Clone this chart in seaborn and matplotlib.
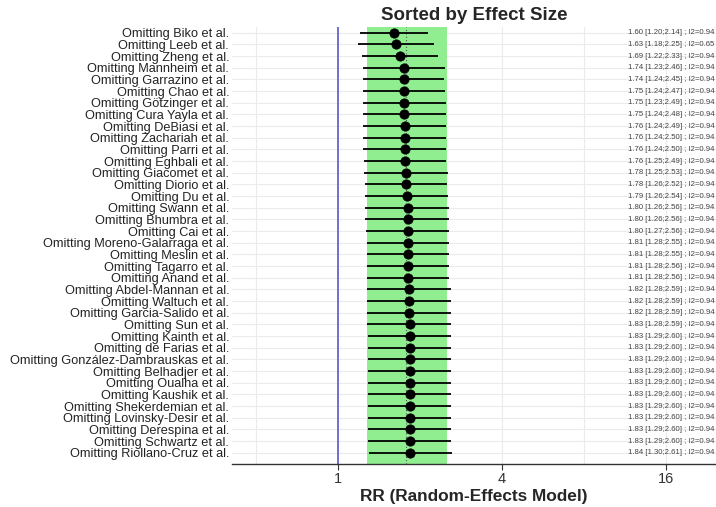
import matplotlib
matplotlib.use("Agg")
import matplotlib.pyplot as plt
import matplotlib.ticker as mticker
import matplotlib.transforms as mtransforms
import pandas as pd
import seaborn as sns

authors = [
    "Biko", "Leeb", "Zheng", "Mannheim", "Garrazino", "Chao", "Götzinger",
    "Cura Yayla", "DeBiasi", "Zachariah", "Parri", "Eghbali", "Giacomet",
    "Diorio", "Du", "Swann", "Bhumbra", "Cai", "Moreno-Galarraga", "Meslin",
    "Tagarro", "Anand", "Abdel-Mannan", "Waltuch", "Garcia-Salido", "Sun",
    "Kainth", "de Farias", "González-Dambrauskas", "Belhadjer", "Oualha",
    "Kaushik", "Shekerdemian", "Lovinsky-Desir", "Derespina", "Schwartz",
    "Riollano-Cruz",
]
rr = [1.60, 1.63, 1.69, 1.74, 1.74, 1.75, 1.75, 1.75, 1.76, 1.76, 1.76, 1.76,
      1.78, 1.78, 1.79, 1.80, 1.80, 1.80, 1.81, 1.81, 1.81, 1.81, 1.82, 1.82,
      1.82, 1.83, 1.83, 1.83, 1.83, 1.83, 1.83, 1.83, 1.83, 1.83, 1.83, 1.83,
      1.84]
lower = [1.20, 1.18, 1.22, 1.23, 1.24, 1.24, 1.23, 1.24, 1.24, 1.24, 1.24, 1.25,
         1.25, 1.26, 1.26, 1.26, 1.26, 1.27, 1.28, 1.28, 1.28, 1.28, 1.28, 1.28,
         1.28, 1.28, 1.29, 1.29, 1.29, 1.29, 1.29, 1.29, 1.29, 1.29, 1.29, 1.29,
         1.30]
upper = [2.14, 2.25, 2.33, 2.46, 2.45, 2.47, 2.49, 2.48, 2.49, 2.50, 2.50, 2.49,
         2.53, 2.52, 2.54, 2.56, 2.56, 2.56, 2.55, 2.55, 2.56, 2.56, 2.59, 2.59,
         2.59, 2.59, 2.60, 2.60, 2.60, 2.60, 2.60, 2.60, 2.60, 2.60, 2.60, 2.60,
         2.61]
i2 = [0.94, 0.65] + [0.94] * 35

pooled = 1.78
pooled_lo = 1.28
pooled_hi = 2.51

df = pd.DataFrame({
    "label": [f"Omitting {a} et al." for a in authors],
    "rr": rr, "lower": lower, "upper": upper, "i2": i2,
})
df["pos"] = range(len(df))

sns.set_theme(style="whitegrid")
plt.rcParams["font.family"] = ["Liberation Sans", "DejaVu Sans"]

fig = plt.figure(figsize=(7.16, 5.07), dpi=100)
ax = fig.add_axes([0.324, 0.085, 0.676, 0.862])

ax.axvspan(pooled_lo, pooled_hi, color="#90ee90", zorder=1, lw=0)
ax.axvline(pooled, color="#555555", ls=(0, (1, 2)), lw=0.8, zorder=2)
ax.axvline(1, color="#6666cc", lw=1.3, zorder=2)

ax.hlines(df["pos"], df["lower"], df["upper"], color="black", lw=1.3, zorder=3)
sns.scatterplot(data=df, x="rr", y="pos", color="black", s=45,
                edgecolor="black", zorder=4, ax=ax, legend=False)

trans = mtransforms.blended_transform_factory(ax.transAxes, ax.transData)
for _, r in df.iterrows():
    ax.text(0.997, r["pos"],
            f"{r['rr']:.2f} [{r['lower']:.2f};{r['upper']:.2f}] ; I2={r['i2']:.2f}",
            transform=trans, ha="right", va="center", fontsize=5.6, color="#444444",
            zorder=5)

ax.set_xscale("log", base=2)
ax.set_xlim(0.408, 24.4)
ax.set_xticks([1, 4, 16])
ax.set_xticklabels(["1", "4", "16"])
ax.set_xticks([0.5, 2, 8], minor=True)
ax.xaxis.set_minor_formatter(mticker.NullFormatter())
ax.set_ylim(len(df) - 1 + 0.95, -0.5)
ax.set_yticks(df["pos"])
ax.set_yticklabels(df["label"], fontsize=9.2, color="#222222")

ax.grid(True, which="both", color="#ebebeb", lw=0.8)
ax.set_axisbelow(True)
for s in ["top", "right", "left"]:
    ax.spines[s].set_visible(False)
ax.spines["bottom"].set_color("#333333")
ax.spines["bottom"].set_linewidth(1.0)
ax.tick_params(axis="x", which="major", length=4, width=0.8, color="#333333",
               labelsize=10.5, labelcolor="#333333", bottom=True, pad=2)
ax.tick_params(axis="x", which="minor", length=0)
ax.tick_params(axis="y", length=0, pad=2)

ax.set_xlabel("RR (Random-Effects Model)", fontsize=12.4, fontweight="bold",
              labelpad=2)
ax.set_ylabel("")
ax.set_title("Sorted by Effect Size", fontsize=13.5, fontweight="bold", pad=5)

fig.savefig("out.png", dpi=100)
